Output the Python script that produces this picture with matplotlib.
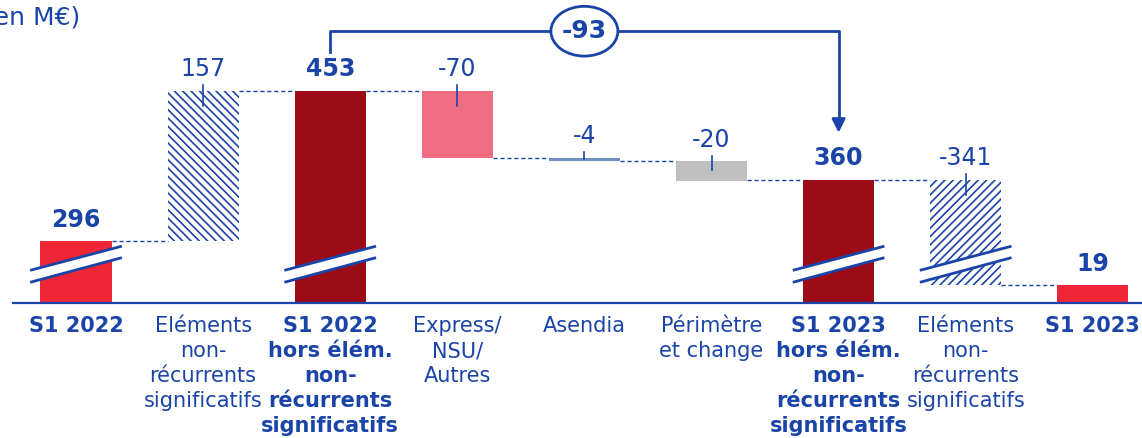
import numpy as np
import matplotlib
matplotlib.use('Agg')
from matplotlib import pyplot as plt
from matplotlib.patches import Ellipse, Polygon

# Waterfall data (en M€)
categories = ['S1 2022', 'Eléments\nnon-\nrécurrents\nsignificatifs',
              'S1 2022\nhors élém.\nnon-\nrécurrents\nsignificatifs',
              'Express/\nNSU/\nAutres', 'Asendia', 'Périmètre\net change',
              'S1 2023\nhors élém.\nnon-\nrécurrents\nsignificatifs',
              'Eléments\nnon-\nrécurrents\nsignificatifs', 'S1 2023']
values = [296, 157, 453, -70, -4, -20, 360, -341, 19]
is_total = [True, False, True, False, False, False, True, False, True]
labels = ['296', '157', '453', '-70', '-4', '-20', '360', '-341', '19']
bracket_label = '-93'

blue = '#1A44A8'
colors = ['#EE2636', 'hatch\\', '#9C0C16', '#F06C80', '#6F8FBF', '#BFBFBF',
          '#9C0C16', 'hatch/', '#EE2636']
broken = [0, 2, 6, 7]

plt.rcParams['font.family'] = ['DejaVu Sans']
plt.rcParams['hatch.linewidth'] = 1.2

CUT = 231  # axis is broken: big values are shifted down


def shown(v):
    return v - CUT if v > CUT else v


# pixel geometry: baseline at 303px, 0.957 px per unit, bars every 127px
PX = 0.957
fig = plt.figure(figsize=(11.42, 4.38), dpi=100)
ax = fig.add_axes([0, 0, 1, 1])
ax.set_xlim(-76 / 127.1, (1142 - 76) / 127.1)
ax.set_ylim(-(438 - 303) / PX, 303 / PX)
ax.axis('off')

w = 0.56
level = 0
bars = []
for i, v in enumerate(values):
    if is_total[i]:
        lo, hi = 0, v
        level = v
    else:
        lo, hi = sorted([level, level + v])
        level = level + v
    b0, b1 = shown(lo), shown(hi)
    bars.append((b0, b1, level))
    c = colors[i]
    if c.startswith('hatch'):
        ax.bar(i, b1 - b0, bottom=b0, width=w, color='white', edgecolor=blue,
               linewidth=0, hatch=c[5:] * 4)
    else:
        ax.bar(i, b1 - b0, bottom=b0, width=w, color=c, linewidth=0)

    if is_total[i]:
        ax.text(i, b1 + 22, labels[i], ha='center', va='center', fontsize=17,
                fontweight='bold', color=blue)
    else:
        ax.text(i, b1 + 22, labels[i], ha='center', va='center', fontsize=17,
                color=blue)
        h = b1 - b0
        ax.plot([i, i], [b1 + 6, b1 - max(1.5, min(16, 0.45 * h))],
                color=blue, lw=1.2)

# dashed connectors between bars
for i in range(len(values) - 1):
    lvl = bars[i][2]
    y = shown(lvl)
    if is_total[i + 1]:
        y = shown(values[i + 1])
    ax.plot([i + w / 2, i + 1 - w / 2], [y, y], color=blue, lw=1,
            dashes=(3, 2))

# axis break marks
for i in broken:
    xl, xr = i - 0.35, i + 0.35
    poly = Polygon([(xl, 22), (xr, 47), (xr, 59), (xl, 34.5)],
                   closed=True, facecolor='white', edgecolor='none', zorder=3)
    ax.add_patch(poly)
    ax.plot([xl, xr], [22, 47], color=blue, lw=2, zorder=4)
    ax.plot([xl, xr], [34.5, 59], color=blue, lw=2, zorder=4)

# baseline
ax.axhline(0, xmin=13 / 1142, xmax=1, color=blue, lw=1.6)

# category labels
for i, c in enumerate(categories):
    ax.text(i, -14, c, ha='center', va='top', fontsize=15, color=blue,
            fontweight='bold' if is_total[i] else 'normal', linespacing=1.3)

# bracket with arrow between the two "hors élém." bars
yb = 284
ax.plot([2, 2, 6, 6], [262, yb, yb, 190], color=blue, lw=2)
ax.annotate('', xy=(6, 175), xytext=(6, 195),
            arrowprops=dict(arrowstyle='-|>,head_width=0.4,head_length=0.8',
                            color=blue, lw=2))
ax.add_patch(Ellipse((4, yb), 0.527, 52, facecolor='white', edgecolor=blue,
                     lw=2, zorder=5))
ax.text(4, yb, bracket_label, ha='center', va='center', fontsize=18,
        fontweight='bold', color=blue, zorder=6)

fig.text(80 / 1142, 1 - 18 / 438, '(en M€)', ha='right', va='center',
         fontsize=18, color=blue)

plt.savefig('out.png', dpi=100)
